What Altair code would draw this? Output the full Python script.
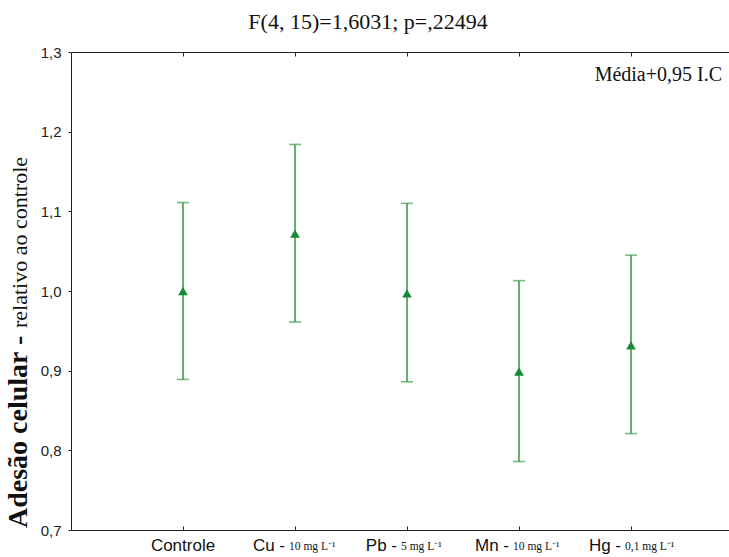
import altair as alt
import pandas as pd

# ---- data ----
categories = ["Controle", "Cu", "Pb", "Mn", "Hg"]
elem_labels = ["Controle", "Cu -", "Pb -", "Mn -", "Hg -"]
conc_labels = ["", "10 mg L⁻¹", "5 mg L⁻¹", "10 mg L⁻¹", "0,1 mg L⁻¹"]
means = [1.000, 1.072, 0.997, 0.899, 0.932]
lower = [0.889, 0.961, 0.886, 0.786, 0.821]
upper = [1.111, 1.184, 1.110, 1.013, 1.045]
y_ticks = [0.7, 0.8, 0.9, 1.0, 1.1, 1.2, 1.3]

title_text = ["F(4, 15)=1,6031; p=,22494"]
legend_text = ["Média+0,95 I.C"]
ytitle_bold = ["Adesão celular -"]
ytitle_light = ["relativo ao controle"]

df = pd.DataFrame({
    "cat": categories,
    "pos": list(range(1, len(categories) + 1)),
    "elem": elem_labels,
    "conc": conc_labels,
    "mean": means,
    "lo": lower,
    "hi": upper,
})

SERIF = "Liberation Serif"
SANS = "Liberation Sans"
LINE_GREEN = "#3c9c4e"
MARK_GREEN = "#17893a"

W, H = 658, 478

xscale = alt.Scale(domain=[0, 5.875], nice=False, zero=False)
yscale = alt.Scale(domain=[0.7, 1.3], nice=False, zero=False)

x_bottom = alt.Axis(values=[1, 2, 3, 4, 5], labels=False, title=None, grid=False,
                    domainColor="#222", tickColor="#222", domainWidth=1,
                    tickSize=alt.ExprRef(expr="-4"), orient="bottom")
x_top = alt.Axis(values=[1, 2, 3, 4, 5], labels=False, title=None, grid=False,
                 domainColor="#222", tickColor="#222", domainWidth=1,
                 tickSize=alt.ExprRef(expr="-4"), orient="top")
y_axis = alt.Axis(values=y_ticks, title=None, grid=False,
                  labelExpr="replace(format(datum.value, '.1f'), '.', ',')",
                  labelFont=SANS, labelFontSize=15, labelColor="#222",
                  labelPadding=7, tickSize=3, tickColor="#222",
                  domainColor="#222", domainWidth=1)

base = alt.Chart(df)

bars = base.mark_rule(color=LINE_GREEN, strokeWidth=1.6).encode(
    x=alt.X("pos:Q", scale=xscale, axis=x_bottom),
    y=alt.Y("lo:Q", scale=yscale, axis=y_axis),
    y2="hi:Q",
)

caps = base.transform_fold(["lo", "hi"], as_=["k", "v"]).mark_tick(
    color=LINE_GREEN, orient="horizontal", size=12, thickness=1.6
).encode(
    x=alt.X("pos:Q", scale=xscale, axis=None),
    y=alt.Y("v:Q", scale=yscale),
)

points = base.mark_point(shape="triangle-up", filled=True, size=95,
                         color=MARK_GREEN, opacity=1).encode(
    x=alt.X("pos:Q", scale=xscale, axis=x_top),
    y=alt.Y("mean:Q", scale=yscale),
)

ctrl_lab = base.transform_filter("datum.conc == ''").mark_text(
    font=SANS, fontSize=17, align="center", baseline="middle", color="#111"
).encode(
    x=alt.X("pos:Q", scale=xscale, axis=None),
    y=alt.value(H + 16),
    text="elem:N",
)

elem_lab = base.transform_filter("datum.conc != ''").mark_text(
    font=SANS, fontSize=17, align="right", baseline="middle", color="#111", dx=-10
).encode(
    x=alt.X("pos:Q", scale=xscale, axis=None),
    y=alt.value(H + 16),
    text="elem:N",
)

conc_lab = base.transform_filter("datum.conc != ''").mark_text(
    font=SERIF, fontSize=11.5, align="left", baseline="middle", color="#111", dx=-6
).encode(
    x=alt.X("pos:Q", scale=xscale, axis=None),
    y=alt.value(H + 17),
    text="conc:N",
)

title = alt.Chart(pd.DataFrame({"t": title_text})).mark_text(
    font=SERIF, fontSize=22, align="center", baseline="middle", color="#111"
).encode(x=alt.value(297), y=alt.value(-30), text="t:N")

legend = alt.Chart(pd.DataFrame({"t": legend_text})).mark_text(
    font=SERIF, fontSize=20, align="right", baseline="middle", color="#111"
).encode(x=alt.value(651), y=alt.value(23), text="t:N")

ytb = alt.Chart(pd.DataFrame({"t": ytitle_bold})).mark_text(
    font=SERIF, fontSize=28, fontWeight="bold", align="left", baseline="middle",
    angle=270, color="#111"
).encode(x=alt.value(-52), y=alt.value(476), text="t:N")

ytl = alt.Chart(pd.DataFrame({"t": ytitle_light})).mark_text(
    font=SERIF, fontSize=22, align="left", baseline="middle",
    angle=270, color="#111"
).encode(x=alt.value(-51), y=alt.value(276), text="t:N")

chart = alt.layer(
    bars, caps, points, ctrl_lab, elem_lab, conc_lab, title, legend, ytb, ytl
).resolve_axis(x="independent").properties(
    width=W, height=H,
    autosize=alt.AutoSizeParams(type="none"),
    padding={"left": 71, "top": 52, "right": 0, "bottom": 27},
    background="white",
).configure_view(stroke=None)

chart.save("out.html", embed_options={"renderer": "svg", "actions": False})
